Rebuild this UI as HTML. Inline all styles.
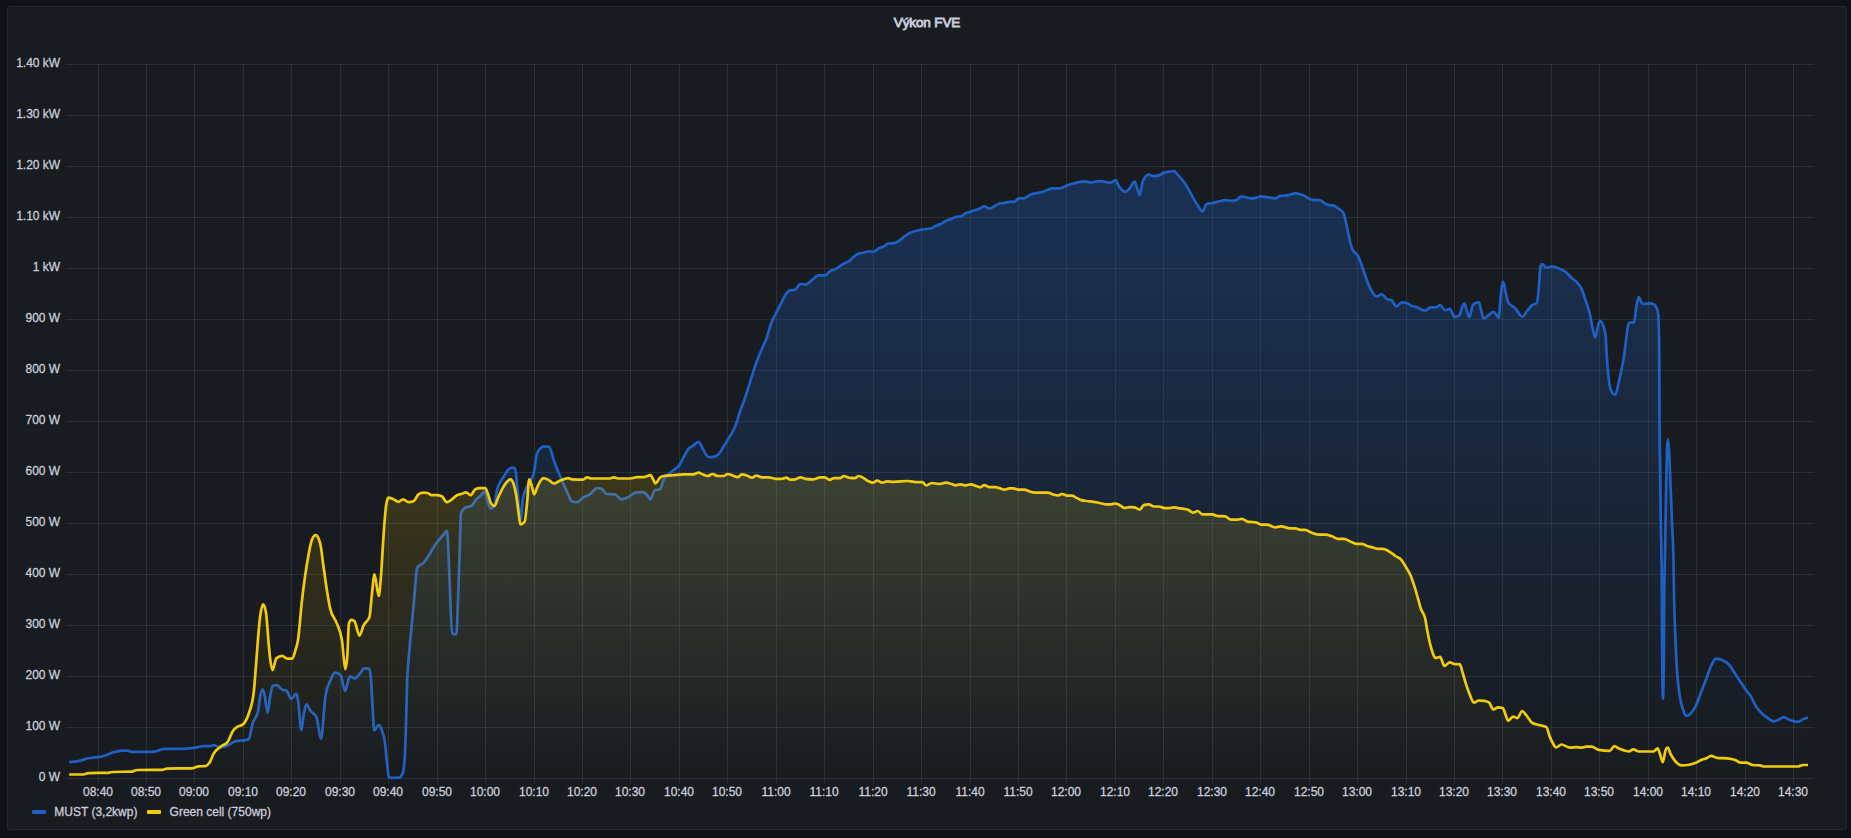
<!DOCTYPE html>
<html lang="cs"><head><meta charset="utf-8"><title>Výkon FVE</title>
<style>
html,body{margin:0;padding:0;background:#111217;}
body{width:1851px;height:838px;position:relative;overflow:hidden;font-family:"Liberation Sans",Arial,sans-serif;}
.panel{position:absolute;left:7px;top:6px;width:1838px;height:822px;background:#181b1f;border:1px solid #25282d;border-radius:3px;}
svg{position:absolute;left:0;top:0;}
svg text{font-family:"Liberation Sans",Arial,sans-serif;fill:#ccccdc;}
.ax text{font-size:12px;stroke:#ccccdc;stroke-width:0.3px;}
.title{font-size:13.5px;letter-spacing:-0.12px;stroke:#ccccdc;stroke-width:0.85px;}
.leg text{font-size:12px;stroke:#ccccdc;stroke-width:0.3px;}
</style></head><body>
<div class="panel"></div>
<svg width="1851" height="838" viewBox="0 0 1851 838">
<defs>
<linearGradient id="gb" gradientUnits="userSpaceOnUse" x1="0" y1="64.5" x2="0" y2="778.5"><stop offset="0" stop-color="#1f60c4" stop-opacity="0.38"/><stop offset="1" stop-color="#1f60c4" stop-opacity="0"/></linearGradient>
<linearGradient id="gy" gradientUnits="userSpaceOnUse" x1="0" y1="64.5" x2="0" y2="778.5"><stop offset="0" stop-color="#f2cc0c" stop-opacity="0.38"/><stop offset="1" stop-color="#f2cc0c" stop-opacity="0"/></linearGradient>
<clipPath id="cp"><rect x="68.0" y="62.5" width="1745.5" height="717.0"/></clipPath>
</defs>
<text class="title" x="927" y="27" text-anchor="middle">Výkon FVE</text>
<g stroke="#f0faff" stroke-opacity="0.09" stroke-width="1" fill="none" shape-rendering="crispEdges">
<path d="M98.5,64.0V783.0"/><path d="M146.5,64.0V783.0"/><path d="M194.5,64.0V783.0"/><path d="M243.5,64.0V783.0"/><path d="M291.5,64.0V783.0"/><path d="M340.5,64.0V783.0"/><path d="M388.5,64.0V783.0"/><path d="M437.5,64.0V783.0"/><path d="M485.5,64.0V783.0"/><path d="M534.5,64.0V783.0"/><path d="M582.5,64.0V783.0"/><path d="M630.5,64.0V783.0"/><path d="M679.5,64.0V783.0"/><path d="M727.5,64.0V783.0"/><path d="M776.5,64.0V783.0"/><path d="M824.5,64.0V783.0"/><path d="M873.5,64.0V783.0"/><path d="M921.5,64.0V783.0"/><path d="M970.5,64.0V783.0"/><path d="M1018.5,64.0V783.0"/><path d="M1066.5,64.0V783.0"/><path d="M1115.5,64.0V783.0"/><path d="M1163.5,64.0V783.0"/><path d="M1212.5,64.0V783.0"/><path d="M1260.5,64.0V783.0"/><path d="M1309.5,64.0V783.0"/><path d="M1357.5,64.0V783.0"/><path d="M1406.5,64.0V783.0"/><path d="M1454.5,64.0V783.0"/><path d="M1502.5,64.0V783.0"/><path d="M1551.5,64.0V783.0"/><path d="M1599.5,64.0V783.0"/><path d="M1648.5,64.0V783.0"/><path d="M1696.5,64.0V783.0"/><path d="M1745.5,64.0V783.0"/><path d="M1793.5,64.0V783.0"/><path d="M65.5,64.5H1814.0"/><path d="M65.5,115.5H1814.0"/><path d="M65.5,166.5H1814.0"/><path d="M65.5,217.5H1814.0"/><path d="M65.5,268.5H1814.0"/><path d="M65.5,319.5H1814.0"/><path d="M65.5,370.5H1814.0"/><path d="M65.5,421.5H1814.0"/><path d="M65.5,472.5H1814.0"/><path d="M65.5,523.5H1814.0"/><path d="M65.5,574.5H1814.0"/><path d="M65.5,625.5H1814.0"/><path d="M65.5,676.5H1814.0"/><path d="M65.5,727.5H1814.0"/><path d="M65.5,778.5H1814.0"/>
</g>
<g clip-path="url(#cp)">
<path d="M69.2,762.1C72.3,761.9 75.3,761.7 78.4,761.1C81.7,760.5 85.1,759.0 88.4,758.3C93.4,757.1 98.4,757.5 103.4,756.1C106.8,755.1 110.1,753.2 113.5,752.2C116.5,751.4 119.6,750.6 122.6,750.6C124.3,750.6 126.0,750.6 127.7,750.7C129.0,750.8 130.4,751.9 131.8,751.9C138.5,751.9 145.2,751.9 151.9,751.9C153.5,751.9 155.2,751.4 156.9,751.1C159.4,750.5 161.9,748.9 164.4,748.9C169.7,748.9 175.0,748.9 180.3,748.9C184.7,748.9 189.2,748.5 193.6,747.9C197.0,747.5 200.3,746.2 203.7,746.2C205.3,746.2 207.0,746.2 208.7,746.2C210.6,746.2 212.6,745.2 214.5,745.2C215.6,745.2 216.7,746.9 217.9,746.9C219.5,746.9 221.2,746.9 222.9,746.9C224.8,746.9 226.8,745.8 228.7,744.9C230.7,744.0 232.6,742.3 234.6,741.6C235.9,741.1 237.3,740.9 238.7,740.7C241.0,740.4 243.2,740.6 245.4,740.2C246.5,740.1 247.6,739.9 248.8,739.2C250.1,738.4 251.5,727.1 252.9,722.7C254.6,717.4 256.3,719.1 257.9,711.8C258.8,708.2 259.6,698.9 260.4,695.1C261.2,691.8 261.9,689.3 262.6,689.3C263.3,689.3 264.0,692.4 264.6,695.1C265.6,699.2 266.6,712.7 267.6,712.7C268.5,712.7 269.3,701.4 270.1,696.8C270.9,692.5 271.7,686.2 272.5,685.9C274.0,685.4 275.6,685.1 277.1,685.1C278.8,685.1 280.5,689.2 282.2,689.8C283.6,690.2 284.9,690.0 286.3,690.4C288.0,691.0 289.7,698.8 291.3,698.8C293.0,698.8 294.7,693.8 296.4,693.8C296.9,693.8 297.5,697.1 298.0,700.1C299.1,706.3 300.3,730.2 301.4,730.2C302.2,730.2 303.0,717.8 303.9,713.5C304.7,709.2 305.5,704.3 306.4,704.3C307.8,704.3 309.2,709.1 310.6,711.0C312.5,713.6 314.5,712.9 316.4,716.8C317.9,719.8 319.4,738.9 320.9,738.9C322.5,738.9 324.0,704.5 325.6,695.1C327.3,685.1 328.9,684.0 330.6,680.1C332.0,676.8 333.4,672.6 334.8,672.6C336.7,672.6 338.7,673.4 340.6,675.1C342.1,676.4 343.6,690.9 345.1,690.9C346.7,690.9 348.3,676.4 349.8,676.4C351.5,676.4 353.2,678.4 354.8,678.4C356.5,678.4 358.3,675.3 360.0,673.4C361.4,671.9 362.8,668.4 364.2,668.4C365.9,668.4 367.6,668.5 369.2,668.7C369.8,668.8 370.3,672.1 370.9,678.4C371.5,684.8 372.0,698.2 372.6,706.8C373.1,715.4 373.7,730.2 374.2,730.2C375.7,730.2 377.2,725.2 378.8,725.2C379.8,725.2 380.8,727.4 381.8,730.2C382.8,733.0 383.8,735.0 384.8,741.9C385.5,747.3 386.3,757.2 387.1,763.6C387.7,768.6 388.3,776.6 388.9,777.0C389.9,777.5 390.8,777.8 391.8,777.8C394.0,777.8 396.2,777.8 398.5,777.8C399.9,777.8 401.2,776.4 402.6,773.6C403.4,772.2 404.1,768.1 404.8,756.9C405.2,750.9 405.6,736.0 406.0,723.5C406.4,711.0 406.8,692.4 407.1,681.8C407.7,666.6 408.3,663.9 408.8,656.7C409.3,650.2 409.8,645.5 410.3,640.0C411.5,627.5 412.6,615.6 413.7,603.6C414.9,591.8 416.0,571.8 417.1,568.5C417.6,566.8 418.2,566.6 418.8,566.0C420.1,564.3 421.5,564.8 422.9,563.5C424.6,561.9 426.3,559.3 427.9,556.8C429.9,553.9 431.8,549.7 433.8,546.8C435.5,544.2 437.1,542.2 438.8,540.1C440.7,537.7 442.7,535.8 444.6,533.4C445.3,532.6 446.0,530.9 446.6,530.9C447.1,530.9 447.5,534.8 448.0,541.8C448.5,550.5 449.1,570.7 449.7,583.5C450.5,602.7 451.3,633.3 452.2,633.6C453.6,634.2 454.9,634.5 456.3,634.5C456.9,634.5 457.4,614.3 458.0,600.2C458.6,586.2 459.1,566.0 459.7,550.1C460.1,537.4 460.6,514.5 461.0,513.4C462.5,509.5 464.0,508.2 465.5,507.5C467.2,506.7 468.9,507.1 470.5,506.3C471.0,506.2 471.5,506.0 471.9,505.7C473.3,504.7 474.7,501.0 476.1,499.3C477.5,497.7 478.9,497.3 480.3,496.0C481.7,494.7 483.1,491.8 484.4,491.8C485.3,491.8 486.1,496.0 486.9,498.5C487.8,501.0 488.6,505.2 489.5,506.9C490.0,507.9 490.6,508.5 491.1,508.5C492.2,508.5 493.4,507.4 494.5,505.2C495.3,503.5 496.1,493.8 497.0,490.2C497.8,486.5 498.6,485.4 499.5,483.5C500.9,480.3 502.3,479.0 503.7,476.8C505.3,474.2 507.0,470.7 508.7,469.3C509.5,468.6 510.3,467.9 511.2,467.9C512.3,467.9 513.4,467.9 514.5,467.9C515.1,467.9 515.6,470.6 516.2,475.1C516.7,479.7 517.3,488.9 517.9,495.2C518.7,504.5 519.5,520.2 520.4,520.2C521.2,520.2 522.0,503.5 522.9,498.5C523.7,493.5 524.5,492.5 525.4,490.2C526.5,487.1 527.6,485.7 528.7,483.5C530.4,480.1 532.0,480.1 533.7,473.5C534.8,469.0 535.9,456.7 537.1,453.4C538.2,450.1 539.3,449.5 540.4,448.4C541.5,447.3 542.6,446.7 543.7,446.7C545.4,446.7 547.1,446.7 548.8,446.7C549.6,446.7 550.4,449.5 551.3,451.7C552.1,454.0 552.9,457.5 553.8,460.1C556.0,467.0 558.2,471.5 560.4,476.8C562.7,482.1 564.9,487.2 567.1,491.8C568.8,495.3 570.5,501.1 572.1,501.5C573.8,502.0 575.5,502.2 577.1,502.2C579.1,502.2 581.0,498.9 583.0,497.7C585.2,496.2 587.4,495.8 589.7,494.3C592.2,492.7 594.7,488.2 597.2,488.2C598.9,488.2 600.5,488.5 602.2,489.3C603.6,490.0 605.0,493.9 606.4,494.0C609.2,494.2 611.9,494.1 614.7,494.3C617.0,494.5 619.2,499.3 621.4,499.3C623.4,499.3 625.3,498.5 627.3,497.7C630.0,496.5 632.8,493.1 635.6,492.7C637.8,492.3 640.1,492.2 642.3,492.2C643.7,492.2 645.1,493.0 646.5,494.3C647.8,495.5 649.0,499.3 650.3,499.3C651.8,499.3 653.3,490.6 654.8,490.2C656.5,489.6 658.3,489.9 660.0,489.3C661.1,489.0 662.3,482.5 663.4,480.2C664.8,477.4 666.2,476.6 667.6,475.2C669.5,473.1 671.5,471.8 673.4,470.2C675.4,468.5 677.3,467.9 679.3,465.1C680.6,463.2 682.0,460.1 683.4,457.6C685.1,454.7 686.8,451.0 688.4,448.9C690.1,446.9 691.8,446.6 693.5,445.4C695.1,444.2 696.8,441.8 698.5,441.8C700.1,441.8 701.8,447.6 703.5,450.1C705.1,452.7 706.8,457.1 708.5,457.1C710.2,457.1 711.8,457.0 713.5,456.8C715.2,456.6 716.8,456.0 718.5,454.3C720.2,452.6 721.8,449.4 723.5,446.8C725.2,444.1 726.9,441.1 728.5,438.4C729.9,436.1 731.3,434.5 732.7,431.7C734.1,429.0 735.5,425.7 736.9,421.7C738.0,418.5 739.1,414.2 740.2,410.9C741.6,406.7 743.0,403.9 744.4,400.0C747.0,392.7 749.6,383.2 752.2,375.2C753.8,370.3 755.4,365.2 757.0,360.8C758.6,356.5 760.2,352.7 761.8,348.9C763.4,345.1 765.0,342.5 766.6,338.2C768.1,333.8 769.7,326.8 771.3,322.7C772.9,318.5 774.5,316.3 776.1,313.1C777.7,309.9 779.3,306.7 780.9,303.6C782.5,300.5 784.1,296.7 785.6,294.5C787.0,292.6 788.4,290.8 789.7,290.4C791.5,289.9 793.4,290.2 795.2,289.7C796.8,289.3 798.4,284.0 800.0,284.0C802.0,284.0 804.0,284.5 805.9,284.5C807.9,284.5 809.9,281.6 811.9,280.2C814.1,278.6 816.2,275.4 818.4,275.4C820.6,275.4 822.8,275.4 825.0,275.4C826.6,275.4 828.2,272.4 829.8,271.3C831.8,270.0 833.8,270.0 835.8,268.9C838.2,267.7 840.6,265.6 842.9,264.2C844.9,263.0 846.9,262.4 848.9,261.1C851.7,259.3 854.5,255.5 857.3,254.1C859.3,253.2 861.2,253.2 863.2,252.7C864.8,252.3 866.4,251.5 868.0,251.5C870.0,251.5 872.0,251.5 874.0,251.5C875.6,251.5 877.2,249.0 878.8,248.2C880.3,247.4 881.9,247.5 883.5,246.7C885.1,245.9 886.7,243.4 888.3,243.4C889.9,243.4 891.5,243.4 893.1,243.4C895.4,243.4 897.7,241.8 900.0,240.2C901.7,239.1 903.3,237.2 905.0,236.0C906.7,234.8 908.4,233.8 910.0,233.0C912.2,231.9 914.5,231.3 916.7,230.7C919.5,229.9 922.3,229.4 925.1,229.0C927.3,228.7 929.5,228.7 931.7,228.2C933.1,227.8 934.5,226.3 935.9,225.7C937.6,224.9 939.3,224.8 940.9,224.0C942.6,223.2 944.3,221.8 945.9,221.0C947.6,220.2 949.3,219.7 950.9,219.0C952.6,218.3 954.3,217.0 956.0,216.8C957.6,216.6 959.3,216.7 961.0,216.5C962.4,216.3 963.8,214.2 965.1,213.5C966.8,212.6 968.5,212.4 970.2,211.8C971.8,211.2 973.5,210.7 975.2,210.1C976.6,209.7 978.0,209.4 979.3,208.8C980.9,208.1 982.5,206.3 984.0,206.3C985.8,206.3 987.6,208.5 989.4,208.5C990.8,208.5 992.1,207.5 993.5,206.8C995.2,206.0 996.9,204.3 998.6,203.8C1000.5,203.2 1002.4,203.3 1004.4,203.0C1006.1,202.6 1007.7,201.8 1009.4,201.8C1011.1,201.8 1012.8,201.8 1014.4,201.8C1015.8,201.8 1017.2,198.4 1018.6,198.4C1020.3,198.4 1021.9,198.4 1023.6,198.4C1025.8,198.4 1028.1,195.7 1030.3,194.8C1032.2,194.0 1034.2,193.5 1036.1,193.1C1038.1,192.7 1040.0,192.7 1042.0,192.1C1043.7,191.6 1045.3,190.7 1047.0,190.1C1048.7,189.5 1050.3,188.4 1052.0,188.4C1054.8,188.4 1057.6,188.4 1060.4,188.4C1062.0,188.4 1063.7,186.9 1065.4,186.2C1067.0,185.6 1068.7,184.8 1070.4,184.2C1072.0,183.7 1073.7,183.5 1075.4,183.1C1077.3,182.6 1079.3,181.7 1081.2,181.7C1082.9,181.7 1084.6,181.7 1086.2,181.7C1087.9,181.7 1089.6,182.6 1091.3,182.6C1092.9,182.6 1094.6,181.5 1096.3,181.4C1097.9,181.3 1099.6,181.2 1101.3,181.2C1103.0,181.2 1104.6,181.8 1106.3,182.1C1107.8,182.3 1109.3,182.7 1110.8,182.7C1112.4,182.7 1113.9,180.1 1115.5,180.1C1116.6,180.1 1117.7,184.2 1118.8,185.9C1119.9,187.6 1121.0,189.1 1122.2,190.1C1123.1,190.9 1124.1,191.8 1125.0,191.8C1126.3,191.8 1127.6,190.7 1128.8,189.3C1130.0,188.0 1131.1,185.6 1132.2,184.2C1133.0,183.2 1133.9,181.7 1134.7,181.7C1135.5,181.7 1136.4,186.2 1137.2,188.4C1138.0,190.6 1138.9,195.1 1139.7,195.1C1140.5,195.1 1141.4,186.3 1142.2,183.4C1143.0,180.5 1143.9,178.7 1144.7,177.6C1146.1,175.7 1147.5,174.7 1148.9,174.7C1150.6,174.7 1152.2,176.2 1153.9,176.2C1155.6,176.2 1157.2,175.9 1158.9,175.4C1160.6,174.8 1162.2,173.1 1163.9,172.6C1165.6,172.0 1167.3,171.9 1168.9,171.7C1170.6,171.5 1172.3,171.2 1173.9,171.2C1175.3,171.2 1176.7,173.6 1178.1,175.1C1180.4,177.4 1182.7,180.0 1185.0,183.4C1187.2,186.7 1189.5,191.2 1191.7,195.1C1193.6,198.5 1195.6,202.3 1197.5,205.1C1199.2,207.6 1200.9,211.5 1202.6,211.5C1203.9,211.5 1205.3,204.1 1206.7,203.8C1208.7,203.3 1210.6,203.5 1212.6,203.1C1214.8,202.7 1217.0,201.8 1219.3,201.3C1221.5,200.8 1223.7,200.1 1225.9,200.1C1227.9,200.1 1229.8,200.9 1231.8,200.9C1233.5,200.9 1235.1,200.6 1236.8,199.8C1238.4,199.0 1239.9,196.4 1241.5,196.4C1243.0,196.4 1244.5,197.0 1246.0,197.3C1247.7,197.6 1249.3,198.4 1251.0,198.4C1252.7,198.4 1254.3,198.3 1256.0,197.9C1257.6,197.6 1259.1,196.3 1260.7,196.3C1262.7,196.3 1264.8,196.8 1266.9,197.1C1269.6,197.5 1272.4,198.4 1275.2,198.4C1276.9,198.4 1278.6,196.3 1280.2,195.9C1283.0,195.4 1285.8,195.6 1288.6,195.1C1290.8,194.7 1293.0,193.4 1295.3,193.4C1296.9,193.4 1298.6,193.8 1300.3,194.3C1301.9,194.7 1303.6,195.4 1305.3,196.3C1306.9,197.1 1308.6,198.7 1310.3,199.3C1312.0,199.8 1313.6,200.1 1315.3,200.1C1316.7,200.1 1318.1,200.1 1319.5,200.1C1320.9,200.1 1322.3,201.8 1323.7,202.6C1325.3,203.5 1327.0,204.8 1328.7,205.1C1330.3,205.5 1332.0,205.3 1333.7,205.6C1335.3,206.0 1337.0,207.5 1338.7,208.8C1340.4,210.1 1342.0,210.4 1343.7,213.5C1344.5,215.0 1345.4,219.9 1346.2,223.5C1347.0,227.1 1347.9,231.5 1348.7,235.2C1349.8,240.1 1350.9,245.7 1352.0,248.6C1354.1,254.0 1356.3,252.4 1358.4,256.7C1360.0,260.1 1361.7,265.5 1363.4,270.1C1365.0,274.7 1366.7,280.3 1368.4,284.3C1369.8,287.6 1371.2,290.6 1372.6,292.6C1373.9,294.6 1375.3,296.5 1376.7,296.5C1378.4,296.5 1380.1,294.3 1381.7,294.3C1383.4,294.3 1385.1,297.8 1386.7,298.8C1388.4,299.8 1390.1,299.4 1391.8,300.5C1393.3,301.5 1394.9,306.5 1396.4,306.5C1398.2,306.5 1400.0,302.3 1401.8,302.3C1403.5,302.3 1405.1,302.6 1406.8,303.1C1408.5,303.7 1410.1,305.3 1411.8,306.0C1413.5,306.6 1415.1,306.5 1416.8,307.1C1418.5,307.8 1420.2,309.1 1421.8,309.7C1423.2,310.1 1424.6,310.5 1426.0,310.5C1427.4,310.5 1428.8,307.3 1430.2,307.3C1432.1,307.3 1434.1,307.3 1436.0,307.3C1437.4,307.3 1438.8,305.1 1440.2,305.1C1441.8,305.1 1443.3,310.2 1444.9,310.2C1446.5,310.2 1448.2,308.8 1449.9,308.8C1451.4,308.8 1452.9,316.8 1454.4,316.8C1456.1,316.8 1457.7,316.4 1459.4,315.5C1460.2,315.1 1461.1,309.7 1461.9,307.7C1462.8,305.6 1463.6,303.5 1464.4,303.5C1465.3,303.5 1466.1,308.7 1466.9,311.0C1467.8,313.3 1468.6,317.3 1469.4,317.3C1470.5,317.3 1471.7,306.9 1472.8,305.1C1473.6,303.8 1474.4,303.5 1475.3,303.1C1476.5,302.6 1477.7,302.3 1479.0,302.3C1479.7,302.3 1480.4,307.6 1481.1,310.2C1482.0,313.1 1482.8,318.5 1483.6,318.5C1485.3,318.5 1487.0,316.3 1488.6,315.2C1490.3,314.1 1492.0,311.8 1493.7,311.8C1495.3,311.8 1497.0,317.7 1498.7,317.7C1499.4,317.7 1500.1,301.0 1500.8,295.1C1501.6,288.8 1502.4,281.8 1503.2,281.8C1503.9,281.8 1504.6,287.1 1505.3,290.1C1506.2,293.6 1507.0,300.3 1507.9,301.8C1510.4,306.3 1512.9,305.9 1515.4,308.5C1517.7,310.9 1520.0,316.8 1522.4,316.8C1523.9,316.8 1525.5,312.9 1527.1,311.0C1528.7,309.0 1530.4,306.5 1532.1,305.1C1533.6,303.9 1535.2,304.5 1536.7,303.1C1537.4,302.6 1538.1,295.4 1538.8,288.4C1539.3,282.6 1539.9,268.4 1540.4,266.7C1541.0,265.1 1541.5,264.2 1542.1,264.2C1543.5,264.2 1544.9,267.6 1546.3,267.6C1548.2,267.6 1550.2,266.4 1552.1,266.4C1554.3,266.4 1556.6,267.5 1558.8,268.4C1561.0,269.3 1563.3,270.1 1565.5,271.7C1567.7,273.4 1569.9,276.4 1572.2,278.4C1573.8,279.9 1575.5,280.7 1577.2,282.6C1578.6,284.2 1580.0,285.5 1581.3,288.4C1582.7,291.4 1584.1,296.0 1585.5,300.1C1586.9,304.3 1588.3,307.7 1589.7,313.5C1590.8,318.2 1591.9,325.7 1593.0,330.2C1593.8,333.1 1594.5,337.7 1595.2,337.7C1596.2,337.7 1597.1,328.1 1598.1,325.2C1598.7,323.2 1599.4,321.0 1600.1,321.0C1601.1,321.0 1602.1,322.4 1603.1,325.2C1603.9,327.5 1604.7,328.5 1605.6,335.2C1605.9,337.8 1606.2,346.6 1606.5,351.6C1607.3,363.8 1608.1,373.7 1608.9,380.3C1609.7,386.8 1610.5,389.4 1611.3,391.0C1612.5,393.4 1613.7,394.6 1614.9,394.6C1616.5,394.6 1618.1,384.7 1619.7,377.9C1621.1,371.7 1622.5,366.3 1624.0,356.4C1624.8,350.9 1625.6,342.9 1626.4,337.3C1627.2,331.7 1628.0,323.1 1628.7,323.0C1630.5,322.6 1632.2,322.8 1634.0,322.5C1634.8,322.3 1635.6,310.5 1636.4,306.3C1637.2,302.0 1638.0,297.2 1638.8,297.2C1640.0,297.2 1641.2,303.9 1642.4,303.9C1644.7,303.9 1647.1,303.4 1649.5,303.4C1651.1,303.4 1652.7,303.8 1654.3,304.6C1655.5,305.2 1656.7,307.1 1657.9,312.2C1658.3,313.9 1658.7,321.4 1659.1,339.7C1659.2,346.6 1659.4,399.3 1659.5,420.0C1659.7,449.4 1659.9,454.4 1660.2,471.6C1660.4,488.8 1660.6,507.8 1660.8,523.1C1661.1,543.6 1661.4,540.3 1661.7,574.7C1661.8,591.9 1662.0,624.4 1662.1,643.0C1662.2,661.5 1662.4,677.4 1662.5,685.9C1662.7,694.5 1662.8,698.8 1663.0,698.8C1663.2,698.8 1663.5,687.4 1663.8,664.5C1663.9,655.1 1664.0,612.8 1664.2,600.1C1664.5,566.0 1664.8,566.8 1665.1,548.9C1665.5,528.5 1665.8,502.5 1666.2,484.5C1666.5,470.1 1666.8,453.7 1667.0,447.9C1667.3,442.2 1667.6,439.3 1667.9,439.3C1668.3,439.3 1668.8,444.7 1669.2,452.2C1669.6,459.7 1670.0,473.6 1670.5,484.5C1671.0,497.2 1671.5,510.6 1672.0,523.1C1672.5,535.7 1673.0,535.3 1673.5,559.7C1673.7,570.1 1673.9,589.2 1674.1,600.0C1674.5,618.0 1674.8,622.7 1675.2,632.2C1675.8,647.5 1676.3,659.2 1676.9,668.8C1677.8,683.2 1678.6,688.1 1679.5,694.5C1680.6,702.6 1681.6,705.0 1682.7,708.5C1684.0,712.7 1685.3,716.0 1686.6,716.0C1687.8,716.0 1689.0,715.0 1690.2,713.9C1692.0,712.2 1693.8,709.9 1695.6,706.4C1697.4,702.8 1699.2,697.0 1701.0,692.4C1702.8,687.7 1704.6,683.1 1706.4,678.4C1708.1,673.8 1709.9,667.9 1711.7,664.5C1713.2,661.7 1714.6,658.7 1716.0,658.7C1717.8,658.7 1719.6,659.1 1721.4,659.7C1723.9,660.7 1726.4,661.7 1728.9,664.5C1731.1,666.8 1733.2,670.9 1735.4,674.1C1737.5,677.4 1739.7,680.6 1741.8,683.8C1743.2,685.9 1744.7,688.3 1746.1,690.2C1747.5,692.2 1749.0,693.3 1750.4,695.6C1751.8,697.9 1753.3,701.7 1754.7,704.2C1756.5,707.3 1758.3,709.7 1760.1,711.7C1762.2,714.2 1764.4,715.6 1766.5,717.1C1769.0,718.9 1771.5,721.4 1774.0,721.4C1775.8,721.4 1777.6,720.1 1779.4,719.2C1780.8,718.6 1782.3,717.1 1783.7,717.1C1785.5,717.1 1787.3,719.0 1789.1,719.7C1791.9,720.8 1794.8,721.8 1797.7,721.8C1799.5,721.8 1801.3,720.0 1803.0,719.2C1804.7,718.6 1806.3,718.0 1808.0,717.5L1808.0,778.5L69.2,778.5Z" fill="url(#gb)"/>
<path d="M69.2,762.1C72.3,761.9 75.3,761.7 78.4,761.1C81.7,760.5 85.1,759.0 88.4,758.3C93.4,757.1 98.4,757.5 103.4,756.1C106.8,755.1 110.1,753.2 113.5,752.2C116.5,751.4 119.6,750.6 122.6,750.6C124.3,750.6 126.0,750.6 127.7,750.7C129.0,750.8 130.4,751.9 131.8,751.9C138.5,751.9 145.2,751.9 151.9,751.9C153.5,751.9 155.2,751.4 156.9,751.1C159.4,750.5 161.9,748.9 164.4,748.9C169.7,748.9 175.0,748.9 180.3,748.9C184.7,748.9 189.2,748.5 193.6,747.9C197.0,747.5 200.3,746.2 203.7,746.2C205.3,746.2 207.0,746.2 208.7,746.2C210.6,746.2 212.6,745.2 214.5,745.2C215.6,745.2 216.7,746.9 217.9,746.9C219.5,746.9 221.2,746.9 222.9,746.9C224.8,746.9 226.8,745.8 228.7,744.9C230.7,744.0 232.6,742.3 234.6,741.6C235.9,741.1 237.3,740.9 238.7,740.7C241.0,740.4 243.2,740.6 245.4,740.2C246.5,740.1 247.6,739.9 248.8,739.2C250.1,738.4 251.5,727.1 252.9,722.7C254.6,717.4 256.3,719.1 257.9,711.8C258.8,708.2 259.6,698.9 260.4,695.1C261.2,691.8 261.9,689.3 262.6,689.3C263.3,689.3 264.0,692.4 264.6,695.1C265.6,699.2 266.6,712.7 267.6,712.7C268.5,712.7 269.3,701.4 270.1,696.8C270.9,692.5 271.7,686.2 272.5,685.9C274.0,685.4 275.6,685.1 277.1,685.1C278.8,685.1 280.5,689.2 282.2,689.8C283.6,690.2 284.9,690.0 286.3,690.4C288.0,691.0 289.7,698.8 291.3,698.8C293.0,698.8 294.7,693.8 296.4,693.8C296.9,693.8 297.5,697.1 298.0,700.1C299.1,706.3 300.3,730.2 301.4,730.2C302.2,730.2 303.0,717.8 303.9,713.5C304.7,709.2 305.5,704.3 306.4,704.3C307.8,704.3 309.2,709.1 310.6,711.0C312.5,713.6 314.5,712.9 316.4,716.8C317.9,719.8 319.4,738.9 320.9,738.9C322.5,738.9 324.0,704.5 325.6,695.1C327.3,685.1 328.9,684.0 330.6,680.1C332.0,676.8 333.4,672.6 334.8,672.6C336.7,672.6 338.7,673.4 340.6,675.1C342.1,676.4 343.6,690.9 345.1,690.9C346.7,690.9 348.3,676.4 349.8,676.4C351.5,676.4 353.2,678.4 354.8,678.4C356.5,678.4 358.3,675.3 360.0,673.4C361.4,671.9 362.8,668.4 364.2,668.4C365.9,668.4 367.6,668.5 369.2,668.7C369.8,668.8 370.3,672.1 370.9,678.4C371.5,684.8 372.0,698.2 372.6,706.8C373.1,715.4 373.7,730.2 374.2,730.2C375.7,730.2 377.2,725.2 378.8,725.2C379.8,725.2 380.8,727.4 381.8,730.2C382.8,733.0 383.8,735.0 384.8,741.9C385.5,747.3 386.3,757.2 387.1,763.6C387.7,768.6 388.3,776.6 388.9,777.0C389.9,777.5 390.8,777.8 391.8,777.8C394.0,777.8 396.2,777.8 398.5,777.8C399.9,777.8 401.2,776.4 402.6,773.6C403.4,772.2 404.1,768.1 404.8,756.9C405.2,750.9 405.6,736.0 406.0,723.5C406.4,711.0 406.8,692.4 407.1,681.8C407.7,666.6 408.3,663.9 408.8,656.7C409.3,650.2 409.8,645.5 410.3,640.0C411.5,627.5 412.6,615.6 413.7,603.6C414.9,591.8 416.0,571.8 417.1,568.5C417.6,566.8 418.2,566.6 418.8,566.0C420.1,564.3 421.5,564.8 422.9,563.5C424.6,561.9 426.3,559.3 427.9,556.8C429.9,553.9 431.8,549.7 433.8,546.8C435.5,544.2 437.1,542.2 438.8,540.1C440.7,537.7 442.7,535.8 444.6,533.4C445.3,532.6 446.0,530.9 446.6,530.9C447.1,530.9 447.5,534.8 448.0,541.8C448.5,550.5 449.1,570.7 449.7,583.5C450.5,602.7 451.3,633.3 452.2,633.6C453.6,634.2 454.9,634.5 456.3,634.5C456.9,634.5 457.4,614.3 458.0,600.2C458.6,586.2 459.1,566.0 459.7,550.1C460.1,537.4 460.6,514.5 461.0,513.4C462.5,509.5 464.0,508.2 465.5,507.5C467.2,506.7 468.9,507.1 470.5,506.3C471.0,506.2 471.5,506.0 471.9,505.7C473.3,504.7 474.7,501.0 476.1,499.3C477.5,497.7 478.9,497.3 480.3,496.0C481.7,494.7 483.1,491.8 484.4,491.8C485.3,491.8 486.1,496.0 486.9,498.5C487.8,501.0 488.6,505.2 489.5,506.9C490.0,507.9 490.6,508.5 491.1,508.5C492.2,508.5 493.4,507.4 494.5,505.2C495.3,503.5 496.1,493.8 497.0,490.2C497.8,486.5 498.6,485.4 499.5,483.5C500.9,480.3 502.3,479.0 503.7,476.8C505.3,474.2 507.0,470.7 508.7,469.3C509.5,468.6 510.3,467.9 511.2,467.9C512.3,467.9 513.4,467.9 514.5,467.9C515.1,467.9 515.6,470.6 516.2,475.1C516.7,479.7 517.3,488.9 517.9,495.2C518.7,504.5 519.5,520.2 520.4,520.2C521.2,520.2 522.0,503.5 522.9,498.5C523.7,493.5 524.5,492.5 525.4,490.2C526.5,487.1 527.6,485.7 528.7,483.5C530.4,480.1 532.0,480.1 533.7,473.5C534.8,469.0 535.9,456.7 537.1,453.4C538.2,450.1 539.3,449.5 540.4,448.4C541.5,447.3 542.6,446.7 543.7,446.7C545.4,446.7 547.1,446.7 548.8,446.7C549.6,446.7 550.4,449.5 551.3,451.7C552.1,454.0 552.9,457.5 553.8,460.1C556.0,467.0 558.2,471.5 560.4,476.8C562.7,482.1 564.9,487.2 567.1,491.8C568.8,495.3 570.5,501.1 572.1,501.5C573.8,502.0 575.5,502.2 577.1,502.2C579.1,502.2 581.0,498.9 583.0,497.7C585.2,496.2 587.4,495.8 589.7,494.3C592.2,492.7 594.7,488.2 597.2,488.2C598.9,488.2 600.5,488.5 602.2,489.3C603.6,490.0 605.0,493.9 606.4,494.0C609.2,494.2 611.9,494.1 614.7,494.3C617.0,494.5 619.2,499.3 621.4,499.3C623.4,499.3 625.3,498.5 627.3,497.7C630.0,496.5 632.8,493.1 635.6,492.7C637.8,492.3 640.1,492.2 642.3,492.2C643.7,492.2 645.1,493.0 646.5,494.3C647.8,495.5 649.0,499.3 650.3,499.3C651.8,499.3 653.3,490.6 654.8,490.2C656.5,489.6 658.3,489.9 660.0,489.3C661.1,489.0 662.3,482.5 663.4,480.2C664.8,477.4 666.2,476.6 667.6,475.2C669.5,473.1 671.5,471.8 673.4,470.2C675.4,468.5 677.3,467.9 679.3,465.1C680.6,463.2 682.0,460.1 683.4,457.6C685.1,454.7 686.8,451.0 688.4,448.9C690.1,446.9 691.8,446.6 693.5,445.4C695.1,444.2 696.8,441.8 698.5,441.8C700.1,441.8 701.8,447.6 703.5,450.1C705.1,452.7 706.8,457.1 708.5,457.1C710.2,457.1 711.8,457.0 713.5,456.8C715.2,456.6 716.8,456.0 718.5,454.3C720.2,452.6 721.8,449.4 723.5,446.8C725.2,444.1 726.9,441.1 728.5,438.4C729.9,436.1 731.3,434.5 732.7,431.7C734.1,429.0 735.5,425.7 736.9,421.7C738.0,418.5 739.1,414.2 740.2,410.9C741.6,406.7 743.0,403.9 744.4,400.0C747.0,392.7 749.6,383.2 752.2,375.2C753.8,370.3 755.4,365.2 757.0,360.8C758.6,356.5 760.2,352.7 761.8,348.9C763.4,345.1 765.0,342.5 766.6,338.2C768.1,333.8 769.7,326.8 771.3,322.7C772.9,318.5 774.5,316.3 776.1,313.1C777.7,309.9 779.3,306.7 780.9,303.6C782.5,300.5 784.1,296.7 785.6,294.5C787.0,292.6 788.4,290.8 789.7,290.4C791.5,289.9 793.4,290.2 795.2,289.7C796.8,289.3 798.4,284.0 800.0,284.0C802.0,284.0 804.0,284.5 805.9,284.5C807.9,284.5 809.9,281.6 811.9,280.2C814.1,278.6 816.2,275.4 818.4,275.4C820.6,275.4 822.8,275.4 825.0,275.4C826.6,275.4 828.2,272.4 829.8,271.3C831.8,270.0 833.8,270.0 835.8,268.9C838.2,267.7 840.6,265.6 842.9,264.2C844.9,263.0 846.9,262.4 848.9,261.1C851.7,259.3 854.5,255.5 857.3,254.1C859.3,253.2 861.2,253.2 863.2,252.7C864.8,252.3 866.4,251.5 868.0,251.5C870.0,251.5 872.0,251.5 874.0,251.5C875.6,251.5 877.2,249.0 878.8,248.2C880.3,247.4 881.9,247.5 883.5,246.7C885.1,245.9 886.7,243.4 888.3,243.4C889.9,243.4 891.5,243.4 893.1,243.4C895.4,243.4 897.7,241.8 900.0,240.2C901.7,239.1 903.3,237.2 905.0,236.0C906.7,234.8 908.4,233.8 910.0,233.0C912.2,231.9 914.5,231.3 916.7,230.7C919.5,229.9 922.3,229.4 925.1,229.0C927.3,228.7 929.5,228.7 931.7,228.2C933.1,227.8 934.5,226.3 935.9,225.7C937.6,224.9 939.3,224.8 940.9,224.0C942.6,223.2 944.3,221.8 945.9,221.0C947.6,220.2 949.3,219.7 950.9,219.0C952.6,218.3 954.3,217.0 956.0,216.8C957.6,216.6 959.3,216.7 961.0,216.5C962.4,216.3 963.8,214.2 965.1,213.5C966.8,212.6 968.5,212.4 970.2,211.8C971.8,211.2 973.5,210.7 975.2,210.1C976.6,209.7 978.0,209.4 979.3,208.8C980.9,208.1 982.5,206.3 984.0,206.3C985.8,206.3 987.6,208.5 989.4,208.5C990.8,208.5 992.1,207.5 993.5,206.8C995.2,206.0 996.9,204.3 998.6,203.8C1000.5,203.2 1002.4,203.3 1004.4,203.0C1006.1,202.6 1007.7,201.8 1009.4,201.8C1011.1,201.8 1012.8,201.8 1014.4,201.8C1015.8,201.8 1017.2,198.4 1018.6,198.4C1020.3,198.4 1021.9,198.4 1023.6,198.4C1025.8,198.4 1028.1,195.7 1030.3,194.8C1032.2,194.0 1034.2,193.5 1036.1,193.1C1038.1,192.7 1040.0,192.7 1042.0,192.1C1043.7,191.6 1045.3,190.7 1047.0,190.1C1048.7,189.5 1050.3,188.4 1052.0,188.4C1054.8,188.4 1057.6,188.4 1060.4,188.4C1062.0,188.4 1063.7,186.9 1065.4,186.2C1067.0,185.6 1068.7,184.8 1070.4,184.2C1072.0,183.7 1073.7,183.5 1075.4,183.1C1077.3,182.6 1079.3,181.7 1081.2,181.7C1082.9,181.7 1084.6,181.7 1086.2,181.7C1087.9,181.7 1089.6,182.6 1091.3,182.6C1092.9,182.6 1094.6,181.5 1096.3,181.4C1097.9,181.3 1099.6,181.2 1101.3,181.2C1103.0,181.2 1104.6,181.8 1106.3,182.1C1107.8,182.3 1109.3,182.7 1110.8,182.7C1112.4,182.7 1113.9,180.1 1115.5,180.1C1116.6,180.1 1117.7,184.2 1118.8,185.9C1119.9,187.6 1121.0,189.1 1122.2,190.1C1123.1,190.9 1124.1,191.8 1125.0,191.8C1126.3,191.8 1127.6,190.7 1128.8,189.3C1130.0,188.0 1131.1,185.6 1132.2,184.2C1133.0,183.2 1133.9,181.7 1134.7,181.7C1135.5,181.7 1136.4,186.2 1137.2,188.4C1138.0,190.6 1138.9,195.1 1139.7,195.1C1140.5,195.1 1141.4,186.3 1142.2,183.4C1143.0,180.5 1143.9,178.7 1144.7,177.6C1146.1,175.7 1147.5,174.7 1148.9,174.7C1150.6,174.7 1152.2,176.2 1153.9,176.2C1155.6,176.2 1157.2,175.9 1158.9,175.4C1160.6,174.8 1162.2,173.1 1163.9,172.6C1165.6,172.0 1167.3,171.9 1168.9,171.7C1170.6,171.5 1172.3,171.2 1173.9,171.2C1175.3,171.2 1176.7,173.6 1178.1,175.1C1180.4,177.4 1182.7,180.0 1185.0,183.4C1187.2,186.7 1189.5,191.2 1191.7,195.1C1193.6,198.5 1195.6,202.3 1197.5,205.1C1199.2,207.6 1200.9,211.5 1202.6,211.5C1203.9,211.5 1205.3,204.1 1206.7,203.8C1208.7,203.3 1210.6,203.5 1212.6,203.1C1214.8,202.7 1217.0,201.8 1219.3,201.3C1221.5,200.8 1223.7,200.1 1225.9,200.1C1227.9,200.1 1229.8,200.9 1231.8,200.9C1233.5,200.9 1235.1,200.6 1236.8,199.8C1238.4,199.0 1239.9,196.4 1241.5,196.4C1243.0,196.4 1244.5,197.0 1246.0,197.3C1247.7,197.6 1249.3,198.4 1251.0,198.4C1252.7,198.4 1254.3,198.3 1256.0,197.9C1257.6,197.6 1259.1,196.3 1260.7,196.3C1262.7,196.3 1264.8,196.8 1266.9,197.1C1269.6,197.5 1272.4,198.4 1275.2,198.4C1276.9,198.4 1278.6,196.3 1280.2,195.9C1283.0,195.4 1285.8,195.6 1288.6,195.1C1290.8,194.7 1293.0,193.4 1295.3,193.4C1296.9,193.4 1298.6,193.8 1300.3,194.3C1301.9,194.7 1303.6,195.4 1305.3,196.3C1306.9,197.1 1308.6,198.7 1310.3,199.3C1312.0,199.8 1313.6,200.1 1315.3,200.1C1316.7,200.1 1318.1,200.1 1319.5,200.1C1320.9,200.1 1322.3,201.8 1323.7,202.6C1325.3,203.5 1327.0,204.8 1328.7,205.1C1330.3,205.5 1332.0,205.3 1333.7,205.6C1335.3,206.0 1337.0,207.5 1338.7,208.8C1340.4,210.1 1342.0,210.4 1343.7,213.5C1344.5,215.0 1345.4,219.9 1346.2,223.5C1347.0,227.1 1347.9,231.5 1348.7,235.2C1349.8,240.1 1350.9,245.7 1352.0,248.6C1354.1,254.0 1356.3,252.4 1358.4,256.7C1360.0,260.1 1361.7,265.5 1363.4,270.1C1365.0,274.7 1366.7,280.3 1368.4,284.3C1369.8,287.6 1371.2,290.6 1372.6,292.6C1373.9,294.6 1375.3,296.5 1376.7,296.5C1378.4,296.5 1380.1,294.3 1381.7,294.3C1383.4,294.3 1385.1,297.8 1386.7,298.8C1388.4,299.8 1390.1,299.4 1391.8,300.5C1393.3,301.5 1394.9,306.5 1396.4,306.5C1398.2,306.5 1400.0,302.3 1401.8,302.3C1403.5,302.3 1405.1,302.6 1406.8,303.1C1408.5,303.7 1410.1,305.3 1411.8,306.0C1413.5,306.6 1415.1,306.5 1416.8,307.1C1418.5,307.8 1420.2,309.1 1421.8,309.7C1423.2,310.1 1424.6,310.5 1426.0,310.5C1427.4,310.5 1428.8,307.3 1430.2,307.3C1432.1,307.3 1434.1,307.3 1436.0,307.3C1437.4,307.3 1438.8,305.1 1440.2,305.1C1441.8,305.1 1443.3,310.2 1444.9,310.2C1446.5,310.2 1448.2,308.8 1449.9,308.8C1451.4,308.8 1452.9,316.8 1454.4,316.8C1456.1,316.8 1457.7,316.4 1459.4,315.5C1460.2,315.1 1461.1,309.7 1461.9,307.7C1462.8,305.6 1463.6,303.5 1464.4,303.5C1465.3,303.5 1466.1,308.7 1466.9,311.0C1467.8,313.3 1468.6,317.3 1469.4,317.3C1470.5,317.3 1471.7,306.9 1472.8,305.1C1473.6,303.8 1474.4,303.5 1475.3,303.1C1476.5,302.6 1477.7,302.3 1479.0,302.3C1479.7,302.3 1480.4,307.6 1481.1,310.2C1482.0,313.1 1482.8,318.5 1483.6,318.5C1485.3,318.5 1487.0,316.3 1488.6,315.2C1490.3,314.1 1492.0,311.8 1493.7,311.8C1495.3,311.8 1497.0,317.7 1498.7,317.7C1499.4,317.7 1500.1,301.0 1500.8,295.1C1501.6,288.8 1502.4,281.8 1503.2,281.8C1503.9,281.8 1504.6,287.1 1505.3,290.1C1506.2,293.6 1507.0,300.3 1507.9,301.8C1510.4,306.3 1512.9,305.9 1515.4,308.5C1517.7,310.9 1520.0,316.8 1522.4,316.8C1523.9,316.8 1525.5,312.9 1527.1,311.0C1528.7,309.0 1530.4,306.5 1532.1,305.1C1533.6,303.9 1535.2,304.5 1536.7,303.1C1537.4,302.6 1538.1,295.4 1538.8,288.4C1539.3,282.6 1539.9,268.4 1540.4,266.7C1541.0,265.1 1541.5,264.2 1542.1,264.2C1543.5,264.2 1544.9,267.6 1546.3,267.6C1548.2,267.6 1550.2,266.4 1552.1,266.4C1554.3,266.4 1556.6,267.5 1558.8,268.4C1561.0,269.3 1563.3,270.1 1565.5,271.7C1567.7,273.4 1569.9,276.4 1572.2,278.4C1573.8,279.9 1575.5,280.7 1577.2,282.6C1578.6,284.2 1580.0,285.5 1581.3,288.4C1582.7,291.4 1584.1,296.0 1585.5,300.1C1586.9,304.3 1588.3,307.7 1589.7,313.5C1590.8,318.2 1591.9,325.7 1593.0,330.2C1593.8,333.1 1594.5,337.7 1595.2,337.7C1596.2,337.7 1597.1,328.1 1598.1,325.2C1598.7,323.2 1599.4,321.0 1600.1,321.0C1601.1,321.0 1602.1,322.4 1603.1,325.2C1603.9,327.5 1604.7,328.5 1605.6,335.2C1605.9,337.8 1606.2,346.6 1606.5,351.6C1607.3,363.8 1608.1,373.7 1608.9,380.3C1609.7,386.8 1610.5,389.4 1611.3,391.0C1612.5,393.4 1613.7,394.6 1614.9,394.6C1616.5,394.6 1618.1,384.7 1619.7,377.9C1621.1,371.7 1622.5,366.3 1624.0,356.4C1624.8,350.9 1625.6,342.9 1626.4,337.3C1627.2,331.7 1628.0,323.1 1628.7,323.0C1630.5,322.6 1632.2,322.8 1634.0,322.5C1634.8,322.3 1635.6,310.5 1636.4,306.3C1637.2,302.0 1638.0,297.2 1638.8,297.2C1640.0,297.2 1641.2,303.9 1642.4,303.9C1644.7,303.9 1647.1,303.4 1649.5,303.4C1651.1,303.4 1652.7,303.8 1654.3,304.6C1655.5,305.2 1656.7,307.1 1657.9,312.2C1658.3,313.9 1658.7,321.4 1659.1,339.7C1659.2,346.6 1659.4,399.3 1659.5,420.0C1659.7,449.4 1659.9,454.4 1660.2,471.6C1660.4,488.8 1660.6,507.8 1660.8,523.1C1661.1,543.6 1661.4,540.3 1661.7,574.7C1661.8,591.9 1662.0,624.4 1662.1,643.0C1662.2,661.5 1662.4,677.4 1662.5,685.9C1662.7,694.5 1662.8,698.8 1663.0,698.8C1663.2,698.8 1663.5,687.4 1663.8,664.5C1663.9,655.1 1664.0,612.8 1664.2,600.1C1664.5,566.0 1664.8,566.8 1665.1,548.9C1665.5,528.5 1665.8,502.5 1666.2,484.5C1666.5,470.1 1666.8,453.7 1667.0,447.9C1667.3,442.2 1667.6,439.3 1667.9,439.3C1668.3,439.3 1668.8,444.7 1669.2,452.2C1669.6,459.7 1670.0,473.6 1670.5,484.5C1671.0,497.2 1671.5,510.6 1672.0,523.1C1672.5,535.7 1673.0,535.3 1673.5,559.7C1673.7,570.1 1673.9,589.2 1674.1,600.0C1674.5,618.0 1674.8,622.7 1675.2,632.2C1675.8,647.5 1676.3,659.2 1676.9,668.8C1677.8,683.2 1678.6,688.1 1679.5,694.5C1680.6,702.6 1681.6,705.0 1682.7,708.5C1684.0,712.7 1685.3,716.0 1686.6,716.0C1687.8,716.0 1689.0,715.0 1690.2,713.9C1692.0,712.2 1693.8,709.9 1695.6,706.4C1697.4,702.8 1699.2,697.0 1701.0,692.4C1702.8,687.7 1704.6,683.1 1706.4,678.4C1708.1,673.8 1709.9,667.9 1711.7,664.5C1713.2,661.7 1714.6,658.7 1716.0,658.7C1717.8,658.7 1719.6,659.1 1721.4,659.7C1723.9,660.7 1726.4,661.7 1728.9,664.5C1731.1,666.8 1733.2,670.9 1735.4,674.1C1737.5,677.4 1739.7,680.6 1741.8,683.8C1743.2,685.9 1744.7,688.3 1746.1,690.2C1747.5,692.2 1749.0,693.3 1750.4,695.6C1751.8,697.9 1753.3,701.7 1754.7,704.2C1756.5,707.3 1758.3,709.7 1760.1,711.7C1762.2,714.2 1764.4,715.6 1766.5,717.1C1769.0,718.9 1771.5,721.4 1774.0,721.4C1775.8,721.4 1777.6,720.1 1779.4,719.2C1780.8,718.6 1782.3,717.1 1783.7,717.1C1785.5,717.1 1787.3,719.0 1789.1,719.7C1791.9,720.8 1794.8,721.8 1797.7,721.8C1799.5,721.8 1801.3,720.0 1803.0,719.2C1804.7,718.6 1806.3,718.0 1808.0,717.5" fill="none" stroke="#1f60c4" stroke-width="2.7" stroke-linejoin="round"/>
<path d="M69.2,774.5C73.9,774.5 78.7,774.5 83.4,774.5C85.1,774.5 86.7,773.2 88.4,773.1C95.1,772.9 101.8,773.0 108.4,772.8C109.6,772.8 110.7,772.0 111.8,772.0C118.5,771.7 125.1,771.8 131.8,771.6C133.5,771.6 135.2,770.0 136.8,770.0C145.2,769.8 153.5,769.9 161.9,769.8C163.6,769.8 165.2,768.7 166.9,768.6C175.3,768.4 183.6,768.5 192.0,768.3C194.2,768.2 196.4,766.7 198.6,766.4C200.9,766.2 203.1,766.3 205.3,766.1C206.7,766.0 208.1,764.9 209.5,762.8C210.9,760.7 212.3,756.0 213.7,753.6C215.9,749.7 218.1,748.8 220.4,746.9C222.9,744.7 225.4,745.1 227.9,741.6C229.5,739.2 231.2,733.5 232.9,731.0C234.3,728.9 235.7,727.9 237.1,726.9C239.0,725.4 241.0,726.0 242.9,724.4C244.9,722.7 246.8,719.7 248.8,713.5C250.4,708.2 252.1,706.3 253.8,691.8C254.6,684.5 255.4,672.2 256.3,661.7C256.8,654.7 257.4,646.7 257.9,640.0C258.6,631.5 259.4,622.7 260.1,616.9C261.1,608.8 262.1,604.4 263.1,604.4C264.0,604.4 265.0,606.9 265.9,611.9C266.9,617.0 267.8,634.9 268.8,645.0C269.2,649.7 269.7,654.7 270.1,658.4C270.9,664.8 271.7,670.1 272.5,670.1C273.8,670.1 275.0,659.5 276.3,658.4C278.3,656.7 280.2,655.9 282.2,655.9C283.8,655.9 285.5,658.7 287.2,658.7C288.8,658.7 290.5,658.7 292.2,658.7C293.3,658.7 294.4,653.8 295.5,650.0C296.4,647.2 297.2,645.3 298.0,640.0C299.3,631.9 300.6,613.2 301.8,601.9C304.1,582.0 306.3,567.0 308.5,555.1C309.6,549.2 310.7,543.0 311.8,540.1C313.1,536.7 314.4,535.1 315.7,535.1C317.2,535.1 318.7,537.9 320.2,543.4C321.3,547.6 322.4,559.0 323.5,566.8C324.7,574.6 325.8,583.2 326.9,590.2C328.0,597.2 329.1,603.7 330.2,608.6C332.4,618.4 334.7,617.3 336.9,623.6C338.6,628.3 340.2,629.1 341.9,640.0C342.6,644.4 343.3,654.6 344.0,660.0C344.4,663.6 344.9,669.2 345.3,669.2C346.0,669.2 346.6,665.1 347.3,656.7C347.8,649.9 348.4,625.4 348.9,623.6C349.7,621.2 350.4,619.9 351.1,619.9C352.2,619.9 353.3,620.3 354.4,621.1C356.1,622.3 357.8,635.6 359.5,635.6C360.8,635.6 362.2,628.1 363.6,625.3C365.6,621.3 367.5,622.5 369.5,616.9C370.3,614.5 371.1,600.6 372.0,593.5C372.8,586.4 373.7,574.3 374.5,574.3C375.9,574.3 377.3,596.0 378.7,596.0C379.5,596.0 380.3,583.9 381.2,573.5C382.0,563.1 382.8,544.8 383.7,533.4C384.5,522.0 385.3,510.5 386.2,505.0C386.9,500.1 387.7,497.7 388.4,497.7C390.1,497.7 391.7,498.6 393.4,499.3C395.1,500.0 396.7,501.8 398.4,501.8C400.0,501.8 401.5,499.3 403.1,499.3C404.9,499.3 406.7,502.2 408.4,502.2C410.1,502.2 411.8,501.9 413.5,501.3C415.1,500.8 416.8,495.4 418.5,494.3C420.1,493.2 421.8,492.7 423.5,492.7C424.9,492.7 426.3,492.8 427.7,493.0C429.0,493.2 430.4,495.2 431.8,495.2C433.5,495.2 435.2,495.2 436.8,495.2C438.5,495.2 440.2,495.6 441.8,496.3C443.5,497.1 445.2,502.2 446.9,502.2C448.5,502.2 450.2,500.5 451.9,499.3C453.5,498.2 455.2,496.1 456.9,495.2C458.6,494.3 460.2,494.4 461.9,493.8C463.3,493.4 464.7,492.3 466.1,492.3C467.6,492.3 469.1,495.2 470.6,495.2C472.1,495.2 473.7,490.0 475.3,489.3C476.9,488.5 478.6,488.2 480.3,488.2C481.9,488.2 483.6,488.2 485.3,488.2C486.1,488.2 486.9,491.4 487.8,493.5C488.9,496.3 490.0,501.8 491.1,503.5C492.2,505.2 493.4,506.0 494.5,506.0C495.6,506.0 496.7,501.0 497.8,498.5C499.2,495.4 500.6,491.9 502.0,489.3C503.7,486.2 505.3,483.6 507.0,481.8C508.1,480.6 509.2,479.3 510.3,479.3C511.4,479.3 512.6,481.0 513.7,484.3C514.5,486.8 515.3,490.3 516.2,495.2C517.0,500.0 517.9,507.8 518.7,513.5C519.2,517.3 519.8,524.4 520.4,524.4C521.7,524.4 523.1,523.6 524.5,521.9C525.4,520.9 526.2,511.4 527.0,503.5C527.8,496.7 528.5,479.3 529.2,479.3C530.2,479.3 531.1,483.7 532.0,486.8C532.7,489.0 533.4,494.3 534.1,494.3C535.1,494.3 536.1,489.8 537.1,487.7C538.2,485.3 539.3,482.6 540.4,481.0C541.5,479.4 542.6,478.1 543.7,478.1C545.4,478.1 547.1,479.2 548.8,480.1C550.4,481.0 552.1,483.5 553.8,483.5C556.0,483.5 558.2,481.3 560.4,480.5C563.0,479.5 565.5,478.1 568.0,478.1C569.4,478.1 570.7,479.2 572.1,479.3C575.8,479.5 579.4,479.6 583.0,479.6C584.4,479.6 585.8,477.3 587.2,477.3C588.6,477.3 590.0,478.5 591.3,478.5C597.2,478.5 603.0,478.5 608.9,478.5C610.6,478.5 612.2,477.3 613.9,477.3C615.6,477.3 617.2,478.5 618.9,478.5C622.8,478.5 626.7,478.5 630.6,478.5C632.8,478.5 635.1,477.1 637.3,477.1C639.5,477.1 641.7,477.1 644.0,477.1C646.2,477.1 648.4,475.1 650.6,475.1C651.5,475.1 652.3,477.8 653.2,479.3C653.9,480.6 654.6,483.5 655.3,483.5C656.9,483.5 658.4,478.9 660.0,477.6C661.1,476.7 662.3,476.2 663.4,476.0C666.7,475.4 670.1,475.4 673.4,475.2C676.7,474.9 680.1,474.3 683.4,474.3C686.8,474.3 690.1,474.3 693.5,474.3C695.1,474.3 696.8,472.7 698.5,472.7C699.9,472.7 701.2,473.8 702.6,474.3C704.3,474.9 706.0,476.0 707.7,476.0C709.3,476.0 711.0,474.0 712.7,474.0C714.3,474.0 716.0,476.0 717.7,476.0C719.6,476.0 721.6,476.0 723.5,476.0C724.9,476.0 726.3,474.0 727.7,474.0C729.4,474.0 731.0,475.0 732.7,475.5C734.4,476.0 736.0,477.2 737.7,477.2C739.1,477.2 740.5,474.3 741.9,474.3C743.6,474.3 745.2,474.9 746.9,475.5C748.6,476.1 750.2,477.7 751.9,477.7C753.4,477.7 754.9,475.5 756.4,475.5C758.3,475.5 760.1,477.3 761.9,477.3C764.2,477.3 766.4,477.3 768.6,477.3C770.8,477.3 773.1,478.8 775.3,478.8C777.5,478.8 779.8,478.8 782.0,478.8C783.4,478.8 784.8,477.7 786.2,477.7C787.6,477.7 788.9,479.7 790.3,479.7C792.0,479.7 793.7,479.6 795.3,479.3C797.0,479.1 798.7,477.3 800.4,477.3C802.0,477.3 803.7,478.6 805.4,478.8C808.2,479.2 810.9,479.3 813.7,479.3C815.9,479.3 818.2,477.3 820.4,477.3C821.8,477.3 823.2,477.3 824.6,477.3C826.2,477.3 827.9,479.8 829.6,479.8C831.0,479.8 832.4,478.2 833.8,478.2C835.7,478.2 837.7,478.2 839.6,478.2C841.1,478.2 842.6,476.0 844.1,476.0C845.7,476.0 847.2,477.4 848.8,477.7C850.7,478.0 852.7,478.2 854.6,478.2C856.0,478.2 857.4,476.0 858.8,476.0C860.2,476.0 861.6,476.9 863.0,477.7C864.7,478.5 866.3,480.2 868.0,481.0C869.7,481.8 871.3,482.7 873.0,482.7C874.4,482.7 875.8,480.7 877.2,480.7C878.9,480.7 880.5,482.7 882.2,482.7C883.9,482.7 885.5,481.3 887.2,481.3C889.4,481.3 891.7,481.8 893.9,481.8C898.4,481.8 902.8,481.0 907.3,481.0C909.5,481.0 911.7,481.7 913.9,481.8C916.7,482.1 919.5,482.0 922.3,482.2C923.7,482.3 925.1,485.5 926.5,485.5C928.1,485.5 929.8,483.0 931.5,483.0C934.3,483.0 937.2,484.0 940.0,484.0C942.0,484.0 943.9,482.6 945.9,482.6C947.6,482.6 949.2,483.3 950.9,483.8C952.6,484.2 954.2,485.4 955.9,485.4C957.3,485.4 958.7,484.3 960.1,484.3C962.0,484.3 964.0,485.4 965.9,485.4C967.6,485.4 969.3,484.3 970.9,484.3C972.6,484.3 974.3,485.4 976.0,485.9C977.3,486.4 978.7,487.3 980.1,487.3C981.5,487.3 982.9,485.1 984.3,485.1C986.0,485.1 987.7,487.1 989.3,487.1C991.3,487.1 993.2,487.1 995.2,487.1C996.8,487.1 998.5,488.0 1000.2,488.4C1001.6,488.8 1003.0,489.6 1004.4,489.6C1006.0,489.6 1007.7,488.4 1009.4,488.4C1010.8,488.4 1012.1,488.4 1013.5,488.4C1015.2,488.4 1016.9,489.6 1018.6,489.6C1020.5,489.6 1022.4,489.6 1024.4,489.6C1026.1,489.6 1027.7,491.0 1029.4,491.4C1031.4,492.0 1033.3,492.6 1035.3,492.6C1037.5,492.6 1039.7,492.6 1041.9,492.6C1043.9,492.6 1045.8,492.6 1047.8,492.6C1049.7,492.6 1051.7,494.1 1053.6,494.6C1055.0,495.0 1056.4,495.5 1057.8,495.5C1059.2,495.5 1060.6,494.0 1062.0,494.0C1063.7,494.0 1065.3,495.6 1067.0,495.6C1068.7,495.6 1070.3,495.6 1072.0,495.6C1073.4,495.6 1074.8,496.9 1076.2,497.6C1077.9,498.4 1079.5,499.7 1081.2,500.1C1083.1,500.7 1085.1,500.7 1087.0,501.0C1089.3,501.3 1091.5,501.4 1093.7,501.8C1095.7,502.1 1097.6,502.6 1099.6,503.0C1101.5,503.4 1103.5,504.3 1105.4,504.3C1107.4,504.3 1109.3,504.3 1111.3,504.3C1112.7,504.3 1114.0,503.5 1115.4,503.5C1116.8,503.5 1118.2,504.5 1119.6,505.1C1121.3,505.9 1123.0,508.0 1124.6,508.0C1126.3,508.0 1128.0,507.1 1129.6,507.1C1131.3,507.1 1133.0,507.2 1134.6,507.3C1136.3,507.4 1138.0,509.7 1139.7,509.7C1141.0,509.7 1142.4,505.6 1143.8,505.1C1145.5,504.6 1147.2,504.3 1148.8,504.3C1150.5,504.3 1152.2,506.5 1153.9,506.5C1155.5,506.5 1157.2,506.5 1158.9,506.5C1160.8,506.5 1162.8,508.2 1164.7,508.2C1166.1,508.2 1167.5,508.2 1168.9,508.2C1170.6,508.2 1172.2,507.3 1173.9,507.3C1175.6,507.3 1177.2,507.9 1178.9,508.2C1180.6,508.4 1182.2,508.5 1183.9,508.8C1185.3,509.1 1186.7,509.3 1188.1,509.8C1189.8,510.5 1191.4,512.7 1193.1,512.7C1194.6,512.7 1196.1,511.0 1197.6,511.0C1199.2,511.0 1200.7,514.3 1202.3,514.3C1205.6,514.3 1209.0,514.3 1212.3,514.3C1214.0,514.3 1215.7,515.8 1217.3,516.0C1219.9,516.3 1222.5,516.1 1225.1,516.4C1227.0,516.6 1229.0,519.6 1230.9,519.6C1233.1,519.6 1235.4,519.6 1237.6,519.6C1239.0,519.6 1240.4,518.8 1241.8,518.8C1244.0,518.8 1246.2,521.5 1248.4,521.8C1250.9,522.1 1253.5,521.9 1256.0,522.3C1257.6,522.5 1259.3,524.6 1261.0,524.6C1262.9,524.6 1264.9,524.6 1266.8,524.6C1269.6,524.6 1272.4,527.3 1275.2,527.3C1277.1,527.3 1279.1,526.4 1281.0,526.4C1284.1,526.4 1287.1,528.4 1290.2,528.4C1291.9,528.4 1293.5,528.4 1295.2,528.4C1296.9,528.4 1298.6,529.8 1300.2,529.8C1301.9,529.8 1303.6,529.8 1305.2,529.8C1306.9,529.8 1308.6,531.4 1310.2,532.1C1313.0,533.2 1315.8,534.6 1318.6,534.6C1320.8,534.6 1323.1,534.6 1325.3,534.6C1327.5,534.6 1329.7,535.5 1332.0,536.3C1333.9,537.0 1335.9,538.8 1337.8,538.8C1339.8,538.8 1341.7,538.8 1343.7,538.8C1345.9,538.8 1348.1,540.6 1350.3,541.5C1352.3,542.2 1354.2,543.8 1356.2,543.8C1358.1,543.8 1360.1,543.8 1362.0,543.8C1364.0,543.8 1365.9,545.7 1367.9,546.3C1369.8,547.0 1371.8,547.1 1373.7,547.7C1375.1,548.0 1376.5,548.8 1377.9,548.8C1379.6,548.8 1381.2,548.8 1382.9,548.8C1385.4,548.8 1387.9,550.8 1390.4,552.3C1392.1,553.4 1393.8,554.8 1395.4,556.0C1397.4,557.4 1399.3,557.6 1401.3,559.8C1403.0,561.8 1404.6,564.9 1406.3,567.7C1407.7,570.1 1409.1,572.0 1410.5,575.2C1411.6,577.8 1412.7,581.1 1413.8,584.4C1414.9,587.7 1416.0,591.4 1417.1,595.3C1418.4,599.4 1419.6,604.9 1420.8,608.6C1422.2,612.9 1423.7,611.9 1425.1,618.3C1425.8,621.4 1426.5,626.3 1427.2,630.1C1428.1,634.6 1429.0,639.3 1429.8,642.9C1430.8,646.9 1431.7,650.1 1432.6,652.6C1433.5,655.1 1434.5,658.0 1435.4,658.0C1437.0,658.0 1438.6,656.9 1440.1,656.9C1441.6,656.9 1443.0,665.9 1444.4,665.9C1446.2,665.9 1448.0,662.3 1449.8,662.3C1451.2,662.3 1452.7,663.8 1454.1,664.0C1456.0,664.3 1458.0,664.1 1459.9,664.4C1460.8,664.6 1461.7,670.0 1462.7,673.0C1463.8,676.4 1464.8,680.4 1465.9,683.8C1467.3,688.2 1468.8,692.3 1470.2,695.6C1471.4,698.4 1472.6,702.6 1473.8,702.6C1475.5,702.6 1477.1,700.5 1478.8,700.5C1480.6,700.5 1482.4,700.6 1484.2,700.9C1485.7,701.2 1487.3,701.4 1488.9,702.4C1490.4,703.4 1491.9,709.5 1493.4,709.5C1495.0,709.5 1496.5,707.4 1498.1,707.4C1499.7,707.4 1501.3,707.6 1502.8,708.0C1503.8,708.3 1504.7,712.7 1505.6,714.9C1506.5,716.9 1507.3,720.7 1508.2,720.7C1509.8,720.7 1511.5,716.6 1513.1,716.6C1514.6,716.6 1516.0,718.1 1517.4,718.1C1519.0,718.1 1520.6,711.0 1522.2,711.0C1523.5,711.0 1524.7,713.5 1526.0,714.9C1528.2,717.3 1530.3,721.8 1532.5,723.0C1534.6,724.3 1536.8,724.4 1538.9,725.0C1541.4,725.7 1543.9,725.7 1546.4,727.1C1547.5,727.7 1548.6,733.7 1549.6,736.4C1550.7,739.0 1551.8,741.4 1552.9,743.2C1553.9,745.1 1555.0,747.5 1556.1,747.5C1557.9,747.5 1559.7,744.5 1561.5,744.5C1564.3,744.5 1567.2,747.7 1570.1,747.7C1572.2,747.7 1574.3,747.1 1576.5,747.1C1577.9,747.1 1579.4,747.7 1580.8,747.7C1582.6,747.7 1584.4,746.7 1586.2,746.7C1587.9,746.7 1589.7,746.7 1591.5,746.7C1594.0,746.7 1596.5,749.4 1599.0,749.9C1602.6,750.5 1606.1,750.8 1609.7,750.8C1611.2,750.8 1612.8,746.1 1614.4,746.1C1616.0,746.1 1617.7,748.0 1619.3,748.7C1622.6,750.1 1625.8,751.5 1629.0,751.5C1630.4,751.5 1631.9,749.3 1633.3,749.3C1635.1,749.3 1636.9,751.5 1638.7,751.5C1643.7,751.5 1648.7,751.5 1653.7,751.5C1655.0,751.5 1656.3,748.3 1657.6,748.3C1658.4,748.3 1659.3,752.4 1660.2,754.7C1661.0,757.0 1661.9,762.2 1662.7,762.2C1663.7,762.2 1664.6,752.8 1665.5,750.4C1666.2,748.6 1667.0,747.6 1667.7,747.6C1668.8,747.6 1669.8,752.7 1670.9,754.7C1672.3,757.4 1673.8,759.5 1675.2,761.1C1677.4,763.7 1679.5,765.4 1681.6,765.4C1683.8,765.4 1685.9,765.3 1688.1,765.0C1690.2,764.7 1692.4,764.1 1694.5,763.3C1697.0,762.4 1699.6,760.6 1702.1,759.6C1703.5,759.1 1704.9,758.9 1706.4,758.4C1707.9,757.7 1709.5,755.8 1711.1,755.8C1713.1,755.8 1715.1,757.7 1717.1,757.9C1720.3,758.2 1723.5,758.1 1726.8,758.4C1729.6,758.6 1732.5,759.0 1735.4,760.1C1737.2,760.7 1738.9,762.6 1740.7,762.6C1742.5,762.6 1744.3,762.6 1746.1,762.6C1748.3,762.6 1750.4,764.8 1752.6,765.0C1755.1,765.3 1757.6,765.2 1760.1,765.4C1761.5,765.6 1762.9,766.5 1764.4,766.5C1775.5,766.5 1786.6,766.5 1797.7,766.5C1799.5,766.5 1801.3,765.0 1803.0,765.0C1804.7,765.0 1806.3,765.0 1808.0,765.0L1808.0,778.5L69.2,778.5Z" fill="url(#gy)"/>
<path d="M69.2,774.5C73.9,774.5 78.7,774.5 83.4,774.5C85.1,774.5 86.7,773.2 88.4,773.1C95.1,772.9 101.8,773.0 108.4,772.8C109.6,772.8 110.7,772.0 111.8,772.0C118.5,771.7 125.1,771.8 131.8,771.6C133.5,771.6 135.2,770.0 136.8,770.0C145.2,769.8 153.5,769.9 161.9,769.8C163.6,769.8 165.2,768.7 166.9,768.6C175.3,768.4 183.6,768.5 192.0,768.3C194.2,768.2 196.4,766.7 198.6,766.4C200.9,766.2 203.1,766.3 205.3,766.1C206.7,766.0 208.1,764.9 209.5,762.8C210.9,760.7 212.3,756.0 213.7,753.6C215.9,749.7 218.1,748.8 220.4,746.9C222.9,744.7 225.4,745.1 227.9,741.6C229.5,739.2 231.2,733.5 232.9,731.0C234.3,728.9 235.7,727.9 237.1,726.9C239.0,725.4 241.0,726.0 242.9,724.4C244.9,722.7 246.8,719.7 248.8,713.5C250.4,708.2 252.1,706.3 253.8,691.8C254.6,684.5 255.4,672.2 256.3,661.7C256.8,654.7 257.4,646.7 257.9,640.0C258.6,631.5 259.4,622.7 260.1,616.9C261.1,608.8 262.1,604.4 263.1,604.4C264.0,604.4 265.0,606.9 265.9,611.9C266.9,617.0 267.8,634.9 268.8,645.0C269.2,649.7 269.7,654.7 270.1,658.4C270.9,664.8 271.7,670.1 272.5,670.1C273.8,670.1 275.0,659.5 276.3,658.4C278.3,656.7 280.2,655.9 282.2,655.9C283.8,655.9 285.5,658.7 287.2,658.7C288.8,658.7 290.5,658.7 292.2,658.7C293.3,658.7 294.4,653.8 295.5,650.0C296.4,647.2 297.2,645.3 298.0,640.0C299.3,631.9 300.6,613.2 301.8,601.9C304.1,582.0 306.3,567.0 308.5,555.1C309.6,549.2 310.7,543.0 311.8,540.1C313.1,536.7 314.4,535.1 315.7,535.1C317.2,535.1 318.7,537.9 320.2,543.4C321.3,547.6 322.4,559.0 323.5,566.8C324.7,574.6 325.8,583.2 326.9,590.2C328.0,597.2 329.1,603.7 330.2,608.6C332.4,618.4 334.7,617.3 336.9,623.6C338.6,628.3 340.2,629.1 341.9,640.0C342.6,644.4 343.3,654.6 344.0,660.0C344.4,663.6 344.9,669.2 345.3,669.2C346.0,669.2 346.6,665.1 347.3,656.7C347.8,649.9 348.4,625.4 348.9,623.6C349.7,621.2 350.4,619.9 351.1,619.9C352.2,619.9 353.3,620.3 354.4,621.1C356.1,622.3 357.8,635.6 359.5,635.6C360.8,635.6 362.2,628.1 363.6,625.3C365.6,621.3 367.5,622.5 369.5,616.9C370.3,614.5 371.1,600.6 372.0,593.5C372.8,586.4 373.7,574.3 374.5,574.3C375.9,574.3 377.3,596.0 378.7,596.0C379.5,596.0 380.3,583.9 381.2,573.5C382.0,563.1 382.8,544.8 383.7,533.4C384.5,522.0 385.3,510.5 386.2,505.0C386.9,500.1 387.7,497.7 388.4,497.7C390.1,497.7 391.7,498.6 393.4,499.3C395.1,500.0 396.7,501.8 398.4,501.8C400.0,501.8 401.5,499.3 403.1,499.3C404.9,499.3 406.7,502.2 408.4,502.2C410.1,502.2 411.8,501.9 413.5,501.3C415.1,500.8 416.8,495.4 418.5,494.3C420.1,493.2 421.8,492.7 423.5,492.7C424.9,492.7 426.3,492.8 427.7,493.0C429.0,493.2 430.4,495.2 431.8,495.2C433.5,495.2 435.2,495.2 436.8,495.2C438.5,495.2 440.2,495.6 441.8,496.3C443.5,497.1 445.2,502.2 446.9,502.2C448.5,502.2 450.2,500.5 451.9,499.3C453.5,498.2 455.2,496.1 456.9,495.2C458.6,494.3 460.2,494.4 461.9,493.8C463.3,493.4 464.7,492.3 466.1,492.3C467.6,492.3 469.1,495.2 470.6,495.2C472.1,495.2 473.7,490.0 475.3,489.3C476.9,488.5 478.6,488.2 480.3,488.2C481.9,488.2 483.6,488.2 485.3,488.2C486.1,488.2 486.9,491.4 487.8,493.5C488.9,496.3 490.0,501.8 491.1,503.5C492.2,505.2 493.4,506.0 494.5,506.0C495.6,506.0 496.7,501.0 497.8,498.5C499.2,495.4 500.6,491.9 502.0,489.3C503.7,486.2 505.3,483.6 507.0,481.8C508.1,480.6 509.2,479.3 510.3,479.3C511.4,479.3 512.6,481.0 513.7,484.3C514.5,486.8 515.3,490.3 516.2,495.2C517.0,500.0 517.9,507.8 518.7,513.5C519.2,517.3 519.8,524.4 520.4,524.4C521.7,524.4 523.1,523.6 524.5,521.9C525.4,520.9 526.2,511.4 527.0,503.5C527.8,496.7 528.5,479.3 529.2,479.3C530.2,479.3 531.1,483.7 532.0,486.8C532.7,489.0 533.4,494.3 534.1,494.3C535.1,494.3 536.1,489.8 537.1,487.7C538.2,485.3 539.3,482.6 540.4,481.0C541.5,479.4 542.6,478.1 543.7,478.1C545.4,478.1 547.1,479.2 548.8,480.1C550.4,481.0 552.1,483.5 553.8,483.5C556.0,483.5 558.2,481.3 560.4,480.5C563.0,479.5 565.5,478.1 568.0,478.1C569.4,478.1 570.7,479.2 572.1,479.3C575.8,479.5 579.4,479.6 583.0,479.6C584.4,479.6 585.8,477.3 587.2,477.3C588.6,477.3 590.0,478.5 591.3,478.5C597.2,478.5 603.0,478.5 608.9,478.5C610.6,478.5 612.2,477.3 613.9,477.3C615.6,477.3 617.2,478.5 618.9,478.5C622.8,478.5 626.7,478.5 630.6,478.5C632.8,478.5 635.1,477.1 637.3,477.1C639.5,477.1 641.7,477.1 644.0,477.1C646.2,477.1 648.4,475.1 650.6,475.1C651.5,475.1 652.3,477.8 653.2,479.3C653.9,480.6 654.6,483.5 655.3,483.5C656.9,483.5 658.4,478.9 660.0,477.6C661.1,476.7 662.3,476.2 663.4,476.0C666.7,475.4 670.1,475.4 673.4,475.2C676.7,474.9 680.1,474.3 683.4,474.3C686.8,474.3 690.1,474.3 693.5,474.3C695.1,474.3 696.8,472.7 698.5,472.7C699.9,472.7 701.2,473.8 702.6,474.3C704.3,474.9 706.0,476.0 707.7,476.0C709.3,476.0 711.0,474.0 712.7,474.0C714.3,474.0 716.0,476.0 717.7,476.0C719.6,476.0 721.6,476.0 723.5,476.0C724.9,476.0 726.3,474.0 727.7,474.0C729.4,474.0 731.0,475.0 732.7,475.5C734.4,476.0 736.0,477.2 737.7,477.2C739.1,477.2 740.5,474.3 741.9,474.3C743.6,474.3 745.2,474.9 746.9,475.5C748.6,476.1 750.2,477.7 751.9,477.7C753.4,477.7 754.9,475.5 756.4,475.5C758.3,475.5 760.1,477.3 761.9,477.3C764.2,477.3 766.4,477.3 768.6,477.3C770.8,477.3 773.1,478.8 775.3,478.8C777.5,478.8 779.8,478.8 782.0,478.8C783.4,478.8 784.8,477.7 786.2,477.7C787.6,477.7 788.9,479.7 790.3,479.7C792.0,479.7 793.7,479.6 795.3,479.3C797.0,479.1 798.7,477.3 800.4,477.3C802.0,477.3 803.7,478.6 805.4,478.8C808.2,479.2 810.9,479.3 813.7,479.3C815.9,479.3 818.2,477.3 820.4,477.3C821.8,477.3 823.2,477.3 824.6,477.3C826.2,477.3 827.9,479.8 829.6,479.8C831.0,479.8 832.4,478.2 833.8,478.2C835.7,478.2 837.7,478.2 839.6,478.2C841.1,478.2 842.6,476.0 844.1,476.0C845.7,476.0 847.2,477.4 848.8,477.7C850.7,478.0 852.7,478.2 854.6,478.2C856.0,478.2 857.4,476.0 858.8,476.0C860.2,476.0 861.6,476.9 863.0,477.7C864.7,478.5 866.3,480.2 868.0,481.0C869.7,481.8 871.3,482.7 873.0,482.7C874.4,482.7 875.8,480.7 877.2,480.7C878.9,480.7 880.5,482.7 882.2,482.7C883.9,482.7 885.5,481.3 887.2,481.3C889.4,481.3 891.7,481.8 893.9,481.8C898.4,481.8 902.8,481.0 907.3,481.0C909.5,481.0 911.7,481.7 913.9,481.8C916.7,482.1 919.5,482.0 922.3,482.2C923.7,482.3 925.1,485.5 926.5,485.5C928.1,485.5 929.8,483.0 931.5,483.0C934.3,483.0 937.2,484.0 940.0,484.0C942.0,484.0 943.9,482.6 945.9,482.6C947.6,482.6 949.2,483.3 950.9,483.8C952.6,484.2 954.2,485.4 955.9,485.4C957.3,485.4 958.7,484.3 960.1,484.3C962.0,484.3 964.0,485.4 965.9,485.4C967.6,485.4 969.3,484.3 970.9,484.3C972.6,484.3 974.3,485.4 976.0,485.9C977.3,486.4 978.7,487.3 980.1,487.3C981.5,487.3 982.9,485.1 984.3,485.1C986.0,485.1 987.7,487.1 989.3,487.1C991.3,487.1 993.2,487.1 995.2,487.1C996.8,487.1 998.5,488.0 1000.2,488.4C1001.6,488.8 1003.0,489.6 1004.4,489.6C1006.0,489.6 1007.7,488.4 1009.4,488.4C1010.8,488.4 1012.1,488.4 1013.5,488.4C1015.2,488.4 1016.9,489.6 1018.6,489.6C1020.5,489.6 1022.4,489.6 1024.4,489.6C1026.1,489.6 1027.7,491.0 1029.4,491.4C1031.4,492.0 1033.3,492.6 1035.3,492.6C1037.5,492.6 1039.7,492.6 1041.9,492.6C1043.9,492.6 1045.8,492.6 1047.8,492.6C1049.7,492.6 1051.7,494.1 1053.6,494.6C1055.0,495.0 1056.4,495.5 1057.8,495.5C1059.2,495.5 1060.6,494.0 1062.0,494.0C1063.7,494.0 1065.3,495.6 1067.0,495.6C1068.7,495.6 1070.3,495.6 1072.0,495.6C1073.4,495.6 1074.8,496.9 1076.2,497.6C1077.9,498.4 1079.5,499.7 1081.2,500.1C1083.1,500.7 1085.1,500.7 1087.0,501.0C1089.3,501.3 1091.5,501.4 1093.7,501.8C1095.7,502.1 1097.6,502.6 1099.6,503.0C1101.5,503.4 1103.5,504.3 1105.4,504.3C1107.4,504.3 1109.3,504.3 1111.3,504.3C1112.7,504.3 1114.0,503.5 1115.4,503.5C1116.8,503.5 1118.2,504.5 1119.6,505.1C1121.3,505.9 1123.0,508.0 1124.6,508.0C1126.3,508.0 1128.0,507.1 1129.6,507.1C1131.3,507.1 1133.0,507.2 1134.6,507.3C1136.3,507.4 1138.0,509.7 1139.7,509.7C1141.0,509.7 1142.4,505.6 1143.8,505.1C1145.5,504.6 1147.2,504.3 1148.8,504.3C1150.5,504.3 1152.2,506.5 1153.9,506.5C1155.5,506.5 1157.2,506.5 1158.9,506.5C1160.8,506.5 1162.8,508.2 1164.7,508.2C1166.1,508.2 1167.5,508.2 1168.9,508.2C1170.6,508.2 1172.2,507.3 1173.9,507.3C1175.6,507.3 1177.2,507.9 1178.9,508.2C1180.6,508.4 1182.2,508.5 1183.9,508.8C1185.3,509.1 1186.7,509.3 1188.1,509.8C1189.8,510.5 1191.4,512.7 1193.1,512.7C1194.6,512.7 1196.1,511.0 1197.6,511.0C1199.2,511.0 1200.7,514.3 1202.3,514.3C1205.6,514.3 1209.0,514.3 1212.3,514.3C1214.0,514.3 1215.7,515.8 1217.3,516.0C1219.9,516.3 1222.5,516.1 1225.1,516.4C1227.0,516.6 1229.0,519.6 1230.9,519.6C1233.1,519.6 1235.4,519.6 1237.6,519.6C1239.0,519.6 1240.4,518.8 1241.8,518.8C1244.0,518.8 1246.2,521.5 1248.4,521.8C1250.9,522.1 1253.5,521.9 1256.0,522.3C1257.6,522.5 1259.3,524.6 1261.0,524.6C1262.9,524.6 1264.9,524.6 1266.8,524.6C1269.6,524.6 1272.4,527.3 1275.2,527.3C1277.1,527.3 1279.1,526.4 1281.0,526.4C1284.1,526.4 1287.1,528.4 1290.2,528.4C1291.9,528.4 1293.5,528.4 1295.2,528.4C1296.9,528.4 1298.6,529.8 1300.2,529.8C1301.9,529.8 1303.6,529.8 1305.2,529.8C1306.9,529.8 1308.6,531.4 1310.2,532.1C1313.0,533.2 1315.8,534.6 1318.6,534.6C1320.8,534.6 1323.1,534.6 1325.3,534.6C1327.5,534.6 1329.7,535.5 1332.0,536.3C1333.9,537.0 1335.9,538.8 1337.8,538.8C1339.8,538.8 1341.7,538.8 1343.7,538.8C1345.9,538.8 1348.1,540.6 1350.3,541.5C1352.3,542.2 1354.2,543.8 1356.2,543.8C1358.1,543.8 1360.1,543.8 1362.0,543.8C1364.0,543.8 1365.9,545.7 1367.9,546.3C1369.8,547.0 1371.8,547.1 1373.7,547.7C1375.1,548.0 1376.5,548.8 1377.9,548.8C1379.6,548.8 1381.2,548.8 1382.9,548.8C1385.4,548.8 1387.9,550.8 1390.4,552.3C1392.1,553.4 1393.8,554.8 1395.4,556.0C1397.4,557.4 1399.3,557.6 1401.3,559.8C1403.0,561.8 1404.6,564.9 1406.3,567.7C1407.7,570.1 1409.1,572.0 1410.5,575.2C1411.6,577.8 1412.7,581.1 1413.8,584.4C1414.9,587.7 1416.0,591.4 1417.1,595.3C1418.4,599.4 1419.6,604.9 1420.8,608.6C1422.2,612.9 1423.7,611.9 1425.1,618.3C1425.8,621.4 1426.5,626.3 1427.2,630.1C1428.1,634.6 1429.0,639.3 1429.8,642.9C1430.8,646.9 1431.7,650.1 1432.6,652.6C1433.5,655.1 1434.5,658.0 1435.4,658.0C1437.0,658.0 1438.6,656.9 1440.1,656.9C1441.6,656.9 1443.0,665.9 1444.4,665.9C1446.2,665.9 1448.0,662.3 1449.8,662.3C1451.2,662.3 1452.7,663.8 1454.1,664.0C1456.0,664.3 1458.0,664.1 1459.9,664.4C1460.8,664.6 1461.7,670.0 1462.7,673.0C1463.8,676.4 1464.8,680.4 1465.9,683.8C1467.3,688.2 1468.8,692.3 1470.2,695.6C1471.4,698.4 1472.6,702.6 1473.8,702.6C1475.5,702.6 1477.1,700.5 1478.8,700.5C1480.6,700.5 1482.4,700.6 1484.2,700.9C1485.7,701.2 1487.3,701.4 1488.9,702.4C1490.4,703.4 1491.9,709.5 1493.4,709.5C1495.0,709.5 1496.5,707.4 1498.1,707.4C1499.7,707.4 1501.3,707.6 1502.8,708.0C1503.8,708.3 1504.7,712.7 1505.6,714.9C1506.5,716.9 1507.3,720.7 1508.2,720.7C1509.8,720.7 1511.5,716.6 1513.1,716.6C1514.6,716.6 1516.0,718.1 1517.4,718.1C1519.0,718.1 1520.6,711.0 1522.2,711.0C1523.5,711.0 1524.7,713.5 1526.0,714.9C1528.2,717.3 1530.3,721.8 1532.5,723.0C1534.6,724.3 1536.8,724.4 1538.9,725.0C1541.4,725.7 1543.9,725.7 1546.4,727.1C1547.5,727.7 1548.6,733.7 1549.6,736.4C1550.7,739.0 1551.8,741.4 1552.9,743.2C1553.9,745.1 1555.0,747.5 1556.1,747.5C1557.9,747.5 1559.7,744.5 1561.5,744.5C1564.3,744.5 1567.2,747.7 1570.1,747.7C1572.2,747.7 1574.3,747.1 1576.5,747.1C1577.9,747.1 1579.4,747.7 1580.8,747.7C1582.6,747.7 1584.4,746.7 1586.2,746.7C1587.9,746.7 1589.7,746.7 1591.5,746.7C1594.0,746.7 1596.5,749.4 1599.0,749.9C1602.6,750.5 1606.1,750.8 1609.7,750.8C1611.2,750.8 1612.8,746.1 1614.4,746.1C1616.0,746.1 1617.7,748.0 1619.3,748.7C1622.6,750.1 1625.8,751.5 1629.0,751.5C1630.4,751.5 1631.9,749.3 1633.3,749.3C1635.1,749.3 1636.9,751.5 1638.7,751.5C1643.7,751.5 1648.7,751.5 1653.7,751.5C1655.0,751.5 1656.3,748.3 1657.6,748.3C1658.4,748.3 1659.3,752.4 1660.2,754.7C1661.0,757.0 1661.9,762.2 1662.7,762.2C1663.7,762.2 1664.6,752.8 1665.5,750.4C1666.2,748.6 1667.0,747.6 1667.7,747.6C1668.8,747.6 1669.8,752.7 1670.9,754.7C1672.3,757.4 1673.8,759.5 1675.2,761.1C1677.4,763.7 1679.5,765.4 1681.6,765.4C1683.8,765.4 1685.9,765.3 1688.1,765.0C1690.2,764.7 1692.4,764.1 1694.5,763.3C1697.0,762.4 1699.6,760.6 1702.1,759.6C1703.5,759.1 1704.9,758.9 1706.4,758.4C1707.9,757.7 1709.5,755.8 1711.1,755.8C1713.1,755.8 1715.1,757.7 1717.1,757.9C1720.3,758.2 1723.5,758.1 1726.8,758.4C1729.6,758.6 1732.5,759.0 1735.4,760.1C1737.2,760.7 1738.9,762.6 1740.7,762.6C1742.5,762.6 1744.3,762.6 1746.1,762.6C1748.3,762.6 1750.4,764.8 1752.6,765.0C1755.1,765.3 1757.6,765.2 1760.1,765.4C1761.5,765.6 1762.9,766.5 1764.4,766.5C1775.5,766.5 1786.6,766.5 1797.7,766.5C1799.5,766.5 1801.3,765.0 1803.0,765.0C1804.7,765.0 1806.3,765.0 1808.0,765.0" fill="none" stroke="#f2cc0c" stroke-width="2.7" stroke-linejoin="round"/>
</g>
<g class="ax">
<text x="60.2" y="67.1" text-anchor="end">1.40 kW</text><text x="60.2" y="118.1" text-anchor="end">1.30 kW</text><text x="60.2" y="169.1" text-anchor="end">1.20 kW</text><text x="60.2" y="220.1" text-anchor="end">1.10 kW</text><text x="60.2" y="271.1" text-anchor="end">1 kW</text><text x="60.2" y="322.1" text-anchor="end">900 W</text><text x="60.2" y="373.1" text-anchor="end">800 W</text><text x="60.2" y="424.1" text-anchor="end">700 W</text><text x="60.2" y="475.1" text-anchor="end">600 W</text><text x="60.2" y="526.1" text-anchor="end">500 W</text><text x="60.2" y="577.1" text-anchor="end">400 W</text><text x="60.2" y="628.1" text-anchor="end">300 W</text><text x="60.2" y="679.1" text-anchor="end">200 W</text><text x="60.2" y="730.1" text-anchor="end">100 W</text><text x="60.2" y="781.1" text-anchor="end">0 W</text>
<text x="98.0" y="796" text-anchor="middle">08:40</text><text x="146.0" y="796" text-anchor="middle">08:50</text><text x="194.0" y="796" text-anchor="middle">09:00</text><text x="243.0" y="796" text-anchor="middle">09:10</text><text x="291.0" y="796" text-anchor="middle">09:20</text><text x="340.0" y="796" text-anchor="middle">09:30</text><text x="388.0" y="796" text-anchor="middle">09:40</text><text x="437.0" y="796" text-anchor="middle">09:50</text><text x="485.0" y="796" text-anchor="middle">10:00</text><text x="534.0" y="796" text-anchor="middle">10:10</text><text x="582.0" y="796" text-anchor="middle">10:20</text><text x="630.0" y="796" text-anchor="middle">10:30</text><text x="679.0" y="796" text-anchor="middle">10:40</text><text x="727.0" y="796" text-anchor="middle">10:50</text><text x="776.0" y="796" text-anchor="middle">11:00</text><text x="824.0" y="796" text-anchor="middle">11:10</text><text x="873.0" y="796" text-anchor="middle">11:20</text><text x="921.0" y="796" text-anchor="middle">11:30</text><text x="970.0" y="796" text-anchor="middle">11:40</text><text x="1018.0" y="796" text-anchor="middle">11:50</text><text x="1066.0" y="796" text-anchor="middle">12:00</text><text x="1115.0" y="796" text-anchor="middle">12:10</text><text x="1163.0" y="796" text-anchor="middle">12:20</text><text x="1212.0" y="796" text-anchor="middle">12:30</text><text x="1260.0" y="796" text-anchor="middle">12:40</text><text x="1309.0" y="796" text-anchor="middle">12:50</text><text x="1357.0" y="796" text-anchor="middle">13:00</text><text x="1406.0" y="796" text-anchor="middle">13:10</text><text x="1454.0" y="796" text-anchor="middle">13:20</text><text x="1502.0" y="796" text-anchor="middle">13:30</text><text x="1551.0" y="796" text-anchor="middle">13:40</text><text x="1599.0" y="796" text-anchor="middle">13:50</text><text x="1648.0" y="796" text-anchor="middle">14:00</text><text x="1696.0" y="796" text-anchor="middle">14:10</text><text x="1745.0" y="796" text-anchor="middle">14:20</text><text x="1793.0" y="796" text-anchor="middle">14:30</text>
</g>
<g class="leg">
<rect x="32" y="810" width="14" height="4" rx="1" fill="#1f60c4"/>
<text x="54.3" y="816">MUST (3,2kwp)</text>
<rect x="147" y="810" width="14" height="4" rx="1" fill="#f2cc0c"/>
<text x="169.6" y="816">Green cell (750wp)</text>
</g>
</svg>
</body></html>
